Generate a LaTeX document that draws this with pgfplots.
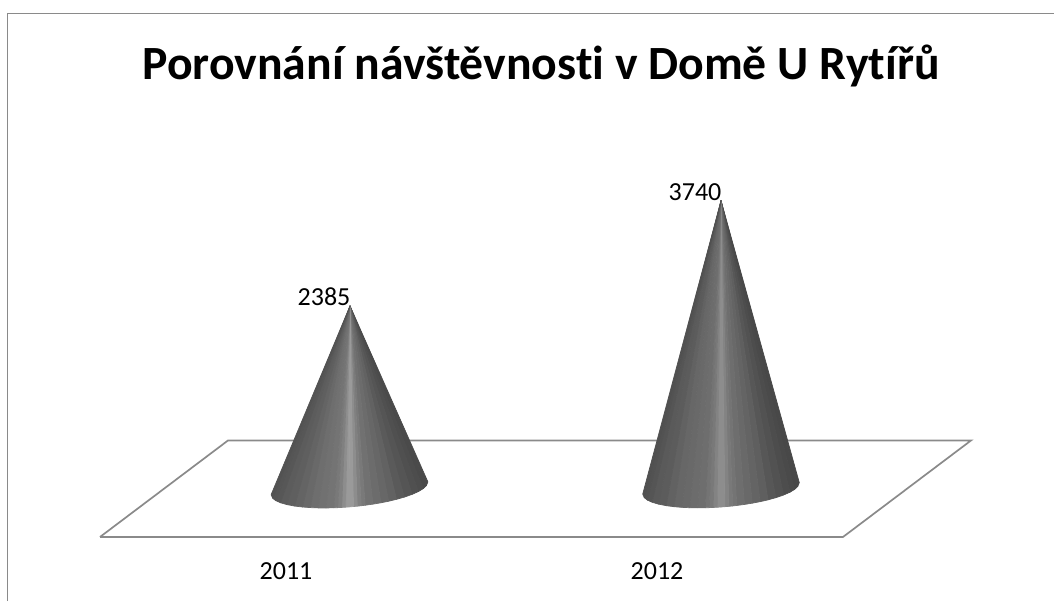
\documentclass[border=0pt]{standalone}
\usepackage{fontspec}
\setmainfont{Carlito}[Ligatures=NoCommon]
\usepackage{pgfplots}
\usepackage{pgfplotstable}
\pgfplotsset{compat=1.18}
\definecolor{linegray}{HTML}{8A8A8A}
% cones: row 0 is the tip, the others run along the base from right to left
\pgfplotstableread{
x y
350 2385
427.9 121
426.3 71.8
423.2 34.5
418.5 -2.6
412.2 -39.1
404.4 -74.6
396.5 -103.5
388.7 -127.5
380.9 -147.9
373.0 -165.1
365.2 -179.5
361.3 -185.8
357.3 -191.4
353.4 -196.5
349.5 -200.8
345.6 -204.7
341.7 -207.8
337.7 -210.6
333.8 -212.5
326.0 -214.5
318.1 -213.9
310.3 -209.9
302.5 -202.3
294.6 -190
286.8 -170.9
280.5 -147.6
275.8 -120.5
272.7 -89.8
271.1 -43.8
}\coneA
\pgfplotstableread{
x y
721 3740
799.3 110.7
797.7 61.6
794.6 24.7
789.9 -11.8
783.6 -47.6
775.8 -82.2
768.0 -110.2
760.2 -133.3
752.3 -152.8
744.5 -169.1
736.7 -182.6
732.7 -188.5
728.8 -193.6
724.9 -198.2
721.0 -202.1
717.1 -205.6
713.2 -208.2
709.3 -210.5
705.3 -212
697.5 -213.1
689.7 -211.6
681.9 -206.7
674.0 -198.2
666.2 -185
658.4 -165
652.1 -141
647.4 -113.3
644.3 -82.2
642.7 -36.1
}\coneB
\begin{document}
\begin{tikzpicture}
\begin{axis}[
  scale only axis, width=1054pt, height=601pt,
  xmin=0, xmax=1054, ymin=-1412, ymax=6323,
  axis line style={draw=none}, tick style={draw=none}, major tick length=0pt,
  xtick={350,721}, xticklabels={2011,2012}, ytick=\empty,
  xticklabel style={font=\fontsize{26}{30}\selectfont, anchor=center, xshift=-64pt, yshift=30.3pt},
  title={Porovnání návštěvnosti v Domě U Rytířů},
  title style={font=\fontsize{47.7}{56}\selectfont\bfseries, at={(0.5133,0.8577)}, anchor=base, inner sep=0pt},
  colormap={greys}{gray(0cm)=(0); gray(1cm)=(1)},
  point meta min=0, point meta max=1,
  /pgf/number format/assume math mode=true,
  /pgf/number format/1000 sep={},
]
% frame of the chart area
\addplot[linegray, line width=1.7pt] coordinates {(7.5,-1412) (7.5,6149) (1054,6149)};
% floor
\addplot[linegray, line width=1.7pt] coordinates {(100,-588) (843,-588) (971,654) (228,654) (100,-588)};
% cones, one grey level per facet
\addplot[patch, patch type=triangle, shader=flat, line width=0.7pt, /pgfplots/table/row sep=\\, patch table with point meta={
0 1 2 .29\\ 0 2 3 .29\\ 0 3 4 .30\\ 0 4 5 .31\\ 0 5 6 .33\\ 0 6 7 .35\\ 0 7 8 .38\\
0 8 9 .40\\ 0 9 10 .42\\ 0 10 11 .44\\ 0 11 12 .47\\ 0 12 13 .50\\ 0 13 14 .55\\ 0 14 15 .60\\
0 15 16 .60\\ 0 16 17 .55\\ 0 17 18 .50\\ 0 18 19 .47\\ 0 19 20 .45\\ 0 20 21 .44\\ 0 21 22 .43\\
0 22 23 .41\\ 0 23 24 .39\\ 0 24 25 .37\\ 0 25 26 .36\\ 0 26 27 .34\\ 0 27 28 .33\\ 0 28 29 .32\\
}] table[x=x, y=y] {\coneA};
\addplot[patch, patch type=triangle, shader=flat, line width=0.7pt, /pgfplots/table/row sep=\\, patch table with point meta={
0 1 2 .28\\ 0 2 3 .28\\ 0 3 4 .29\\ 0 4 5 .30\\ 0 5 6 .32\\ 0 6 7 .34\\ 0 7 8 .37\\
0 8 9 .39\\ 0 9 10 .41\\ 0 10 11 .43\\ 0 11 12 .45\\ 0 12 13 .47\\ 0 13 14 .51\\ 0 14 15 .55\\
0 15 16 .55\\ 0 16 17 .51\\ 0 17 18 .47\\ 0 18 19 .45\\ 0 19 20 .43\\ 0 20 21 .42\\ 0 21 22 .41\\
0 22 23 .40\\ 0 23 24 .38\\ 0 24 25 .36\\ 0 25 26 .35\\ 0 26 27 .33\\ 0 27 28 .32\\ 0 28 29 .31\\
}] table[x=x, y=y] {\coneB};
% value labels
\addplot[draw=none, mark=none, nodes near coords, point meta=y,
  nodes near coords style={font=\fontsize{26}{30}\selectfont, anchor=center, xshift=-26pt, yshift=9pt, text=black}]
  coordinates {(350,2385) (721,3740)};
\end{axis}
\end{tikzpicture}
\end{document}
